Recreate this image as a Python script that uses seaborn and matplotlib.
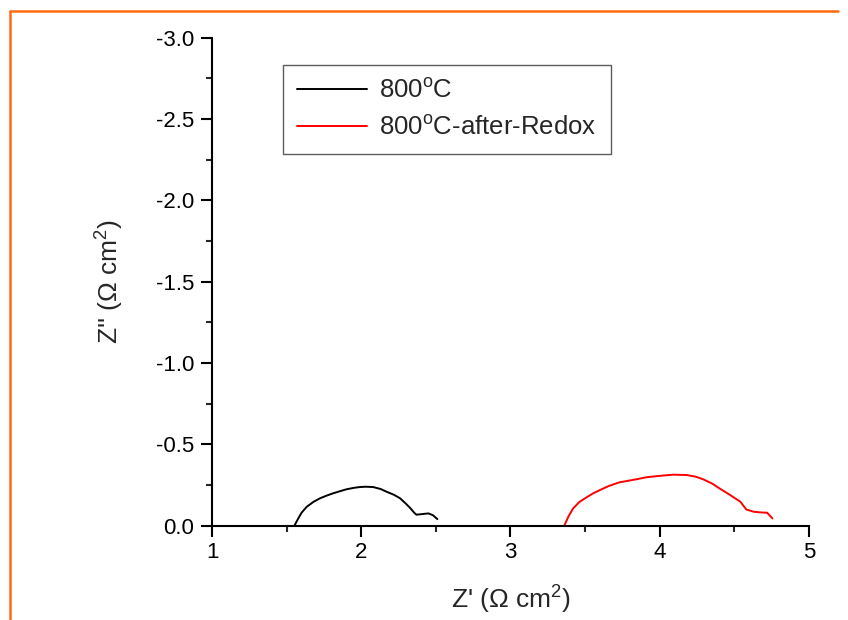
import numpy as np
import pandas as pd
import matplotlib
matplotlib.use("Agg")
import matplotlib.pyplot as plt
import seaborn as sns
from matplotlib.ticker import MultipleLocator
from matplotlib.lines import Line2D

# Data (Z' vs Z'')
zr_800 = [1.552, 1.575, 1.60, 1.635, 1.68, 1.724, 1.77, 1.813, 1.86, 1.90, 1.95, 1.99, 2.03, 2.08, 2.13, 2.17, 2.22, 2.26, 2.30, 2.33, 2.355, 2.37, 2.41, 2.45, 2.48, 2.51]
zi_800 = [0.0, -0.04, -0.08, -0.117, -0.147, -0.169, -0.186, -0.20, -0.213, -0.224, -0.233, -0.238, -0.24, -0.238, -0.226, -0.209, -0.19, -0.169, -0.135, -0.107, -0.08, -0.068, -0.072, -0.076, -0.065, -0.041]

zr_redox = [3.36, 3.39, 3.42, 3.46, 3.51, 3.555, 3.60, 3.66, 3.73, 3.78, 3.85, 3.91, 4.00, 4.09, 4.18, 4.24, 4.29, 4.35, 4.40, 4.47, 4.54, 4.58, 4.63, 4.68, 4.72, 4.755]
zi_redox = [0.0, -0.06, -0.107, -0.145, -0.175, -0.20, -0.22, -0.245, -0.267, -0.275, -0.287, -0.298, -0.307, -0.314, -0.312, -0.302, -0.286, -0.26, -0.23, -0.19, -0.148, -0.10, -0.086, -0.082, -0.08, -0.045]

labels = ["800$^{\\mathrm{o}}$C", "800$^{\\mathrm{o}}$C-after-Redox"]
colors = ["#000000", "#FF0000"]

df = pd.concat([
    pd.DataFrame({"Zr": zr_800, "Zi": zi_800, "series": labels[0], "order": range(len(zr_800))}),
    pd.DataFrame({"Zr": zr_redox, "Zi": zi_redox, "series": labels[1], "order": range(len(zr_redox))}),
])

sns.set_style("ticks")
plt.rcParams["font.family"] = ["Liberation Sans", "DejaVu Sans"]
plt.rcParams["mathtext.fontset"] = "custom"
plt.rcParams["mathtext.rm"] = "Liberation Sans"
plt.rcParams["mathtext.it"] = "Liberation Sans"

fig = plt.figure(figsize=(8.48, 6.2), dpi=100)
ax = fig.add_axes([0.25, 0.152, 0.704, 0.787])

sns.lineplot(data=df, x="Zr", y="Zi", hue="series", palette=colors, sort=False,
             estimator=None, linewidth=1.4, ax=ax, legend=True)

ax.set_xlim(1, 5)
ax.set_ylim(0, -3.0)
ax.xaxis.set_major_locator(MultipleLocator(1))
ax.xaxis.set_minor_locator(MultipleLocator(0.5))
ax.yaxis.set_major_locator(MultipleLocator(0.5))
ax.yaxis.set_minor_locator(MultipleLocator(0.25))
ax.yaxis.set_major_formatter(matplotlib.ticker.FuncFormatter(lambda v, p: f"{v:.1f}".replace("-0.0", "0.0")))

for s in ["top", "right"]:
    ax.spines[s].set_visible(False)
for s in ["left", "bottom"]:
    ax.spines[s].set_linewidth(1.5)
    ax.spines[s].set_color("black")

ax.tick_params(axis="both", which="major", direction="out", length=8, width=1.5, labelsize=16, colors="black")
ax.tick_params(axis="y", which="major", pad=5)
ax.tick_params(axis="x", which="major", pad=4)
ax.tick_params(axis="both", which="minor", direction="out", length=4.5, width=1.5)

ax.set_xlabel("Z' ($\\Omega$ cm$^2$)", fontsize=19, labelpad=15)
ax.set_ylabel("Z'' ($\\Omega$ cm$^2$)", fontsize=19, labelpad=21)

leg = ax.legend(handles=[Line2D([], [], color=c, lw=1.4) for c in colors], labels=labels,
                loc="upper left", bbox_to_anchor=(0.119, 0.9447), fontsize=18.5, frameon=True,
                fancybox=False, edgecolor="#333333", handlelength=2.7, borderpad=0.55,
                labelspacing=0.5, handletextpad=0.5, borderaxespad=0)
leg.get_frame().set_linewidth(1.0)

# orange border (top and left)
fig.add_artist(Line2D([10/848, 838/848], [1-10.5/620, 1-10.5/620], transform=fig.transFigure, color="#FF6A13", lw=1.8))
fig.add_artist(Line2D([10/848, 10/848], [1-10.5/620, 0], transform=fig.transFigure, color="#FF6A13", lw=1.8))

fig.savefig("out.png", dpi=100)
